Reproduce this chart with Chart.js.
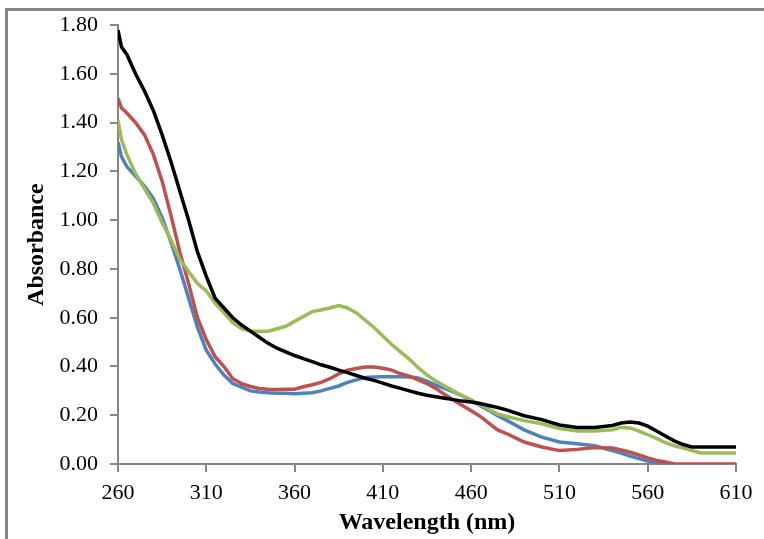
<!DOCTYPE html>
<html>
<head>
    <meta charset="UTF-8" />
    <title>Absorbance spectra</title>
    <script src="https://cdn.jsdelivr.net/npm/chart.js@4"></script>
    <style>
        html, body { margin: 0; padding: 0; background: #fff; }
        #wrap { width: 764px; height: 539px; position: relative; }
    </style>
</head>
<body>
    <div id="wrap"><canvas id="chart"></canvas></div>

    <script>
        // wavelength grid (nm), shared by all four spectra
        const wavelengths = [260, 262, 265, 270, 275, 280, 285, 290, 295, 300, 305, 310, 315, 320, 325, 330, 335, 340, 345, 350,
            355, 360, 365, 370, 375, 380, 385, 390, 395, 400, 405, 410, 415, 420, 425, 430, 435, 440, 445, 450,
            455, 460, 465, 470, 475, 480, 490, 500, 510, 520, 530, 540, 545, 550, 555, 560, 565, 570, 575, 580,
            585, 590, 600, 610];

        const blackSeries = [1.78, 1.71, 1.68, 1.60, 1.53, 1.45, 1.35, 1.24, 1.12, 1.00, 0.87, 0.77, 0.68, 0.64, 0.60, 0.57, 0.545, 0.52, 0.495, 0.475,
            0.46, 0.445, 0.432, 0.42, 0.407, 0.397, 0.385, 0.375, 0.363, 0.352, 0.343, 0.332, 0.32, 0.31, 0.30, 0.29, 0.282, 0.276, 0.27, 0.264,
            0.258, 0.254, 0.248, 0.24, 0.232, 0.222, 0.198, 0.182, 0.16, 0.15, 0.15, 0.158, 0.168, 0.172, 0.168, 0.155, 0.135, 0.115, 0.095, 0.08,
            0.07, 0.07, 0.07, 0.07];

        const greenSeries = [1.41, 1.33, 1.27, 1.19, 1.13, 1.07, 0.99, 0.92, 0.84, 0.79, 0.74, 0.71, 0.66, 0.62, 0.58, 0.555, 0.545, 0.545, 0.545, 0.555,
            0.565, 0.585, 0.605, 0.625, 0.632, 0.64, 0.65, 0.64, 0.62, 0.59, 0.56, 0.525, 0.49, 0.46, 0.43, 0.395, 0.365, 0.34, 0.32, 0.30,
            0.28, 0.26, 0.245, 0.225, 0.205, 0.195, 0.178, 0.165, 0.145, 0.135, 0.135, 0.14, 0.15, 0.148, 0.135, 0.12, 0.105, 0.088, 0.075, 0.065,
            0.055, 0.045, 0.045, 0.045];

        const redSeries = [1.50, 1.46, 1.44, 1.40, 1.35, 1.27, 1.16, 1.02, 0.87, 0.74, 0.60, 0.51, 0.44, 0.40, 0.35, 0.33, 0.318, 0.31, 0.307, 0.306,
            0.307, 0.307, 0.317, 0.325, 0.335, 0.35, 0.37, 0.385, 0.392, 0.398, 0.398, 0.393, 0.385, 0.37, 0.36, 0.345, 0.33, 0.31, 0.285, 0.262,
            0.24, 0.218, 0.196, 0.168, 0.14, 0.125, 0.09, 0.07, 0.055, 0.06, 0.068, 0.066, 0.058, 0.048, 0.037, 0.025, 0.015, 0.008, 0, 0,
            0, 0, 0, 0];

        const blueSeries = [1.32, 1.26, 1.22, 1.18, 1.14, 1.09, 1.01, 0.91, 0.80, 0.68, 0.56, 0.467, 0.41, 0.365, 0.33, 0.315, 0.30, 0.295, 0.292, 0.29,
            0.29, 0.288, 0.29, 0.292, 0.30, 0.31, 0.32, 0.335, 0.345, 0.355, 0.357, 0.358, 0.358, 0.358, 0.357, 0.353, 0.34, 0.324, 0.31, 0.296,
            0.28, 0.262, 0.24, 0.22, 0.198, 0.18, 0.14, 0.11, 0.09, 0.083, 0.075, 0.055, 0.045, 0.032, 0.022, 0.012, 0.005, 0, null, null,
            null, null, null, null];

        const serif = '"Times New Roman", "Liberation Serif", serif';
        const axisGray = '#868686';

        function points(values) {
            return wavelengths.map((w, i) => ({ x: w, y: values[i] }));
        }

        function line(values, color, order) {
            return {
                data: points(values),
                borderColor: color,
                borderWidth: 3.5,
                pointRadius: 0,
                tension: 0,
                fill: false,
                spanGaps: false,
                order: order
            };
        }

        // grey frame round the whole chart (left and top edges show)
        const frame = {
            id: 'frame',
            beforeDraw(chart) {
                const ctx = chart.ctx;
                ctx.save();
                ctx.fillStyle = '#fff';
                ctx.fillRect(0, 0, chart.width, chart.height);
                ctx.fillStyle = axisGray;
                ctx.fillRect(5, 8, chart.width - 5, 3);
                ctx.fillRect(5, 8, 3, chart.height - 8);
                ctx.restore();
            }
        };

        new Chart('chart', {
            type: 'line',
            data: {
                datasets: [
                    line(blackSeries, '#000000', 0),
                    line(greenSeries, '#9BBB59', 1),
                    line(redSeries, '#C0504D', 2),
                    line(blueSeries, '#4F81BD', 3)
                ]
            },
            plugins: [frame],
            options: {
                responsive: true,
                maintainAspectRatio: false,
                animation: false,
                layout: { padding: { left: 8, right: 28, top: 25, bottom: 0 } },
                plugins: {
                    legend: { display: false },
                    tooltip: { enabled: false }
                },
                scales: {
                    x: {
                        type: 'linear',
                        min: 260,
                        max: 610,
                        afterFit: (scale) => { scale.height = 75; },
                        ticks: {
                            stepSize: 50,
                            autoSkip: false,
                            maxRotation: 0,
                            padding: 8,
                            color: '#000',
                            font: { family: serif, size: 22 }
                        },
                        grid: { drawOnChartArea: false, tickLength: 8, color: axisGray, lineWidth: 2 },
                        border: { color: axisGray, width: 2 },
                        title: {
                            display: true,
                            text: 'Wavelength (nm)',
                            color: '#000',
                            font: { family: serif, size: 24, weight: 'bold' },
                            padding: { top: 0, bottom: 2 }
                        }
                    },
                    y: {
                        min: 0,
                        max: 1.8,
                        afterFit: (scale) => { scale.width = 110; },
                        ticks: {
                            stepSize: 0.2,
                            padding: 12,
                            color: '#000',
                            font: { family: serif, size: 22 },
                            callback: (v) => v.toFixed(2)
                        },
                        grid: { drawOnChartArea: false, tickLength: 8, color: axisGray, lineWidth: 2 },
                        border: { color: axisGray, width: 2 },
                        title: {
                            display: true,
                            text: 'Absorbance',
                            color: '#000',
                            font: { family: serif, size: 24, weight: 'bold' },
                            padding: { top: 14, bottom: 0 }
                        }
                    }
                }
            }
        });
    </script>
</body>
</html>
